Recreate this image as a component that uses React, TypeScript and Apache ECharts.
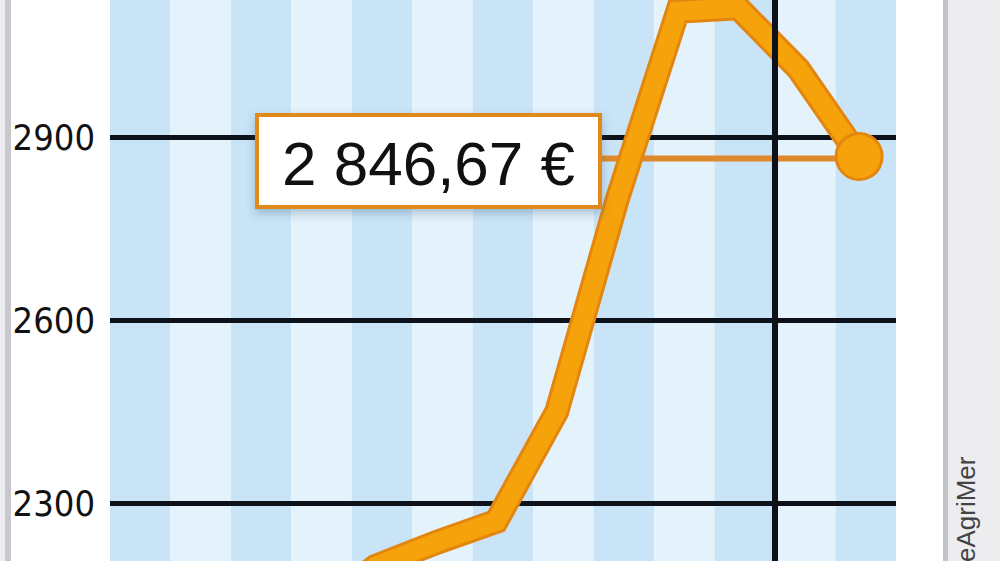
import React, { useEffect, useRef } from "react";
import * as echarts from "echarts";

// Monthly stripes (13 months) and price per tonne (€)
const months = ["févr.", "mars", "avr.", "mai", "juin", "juil.", "août", "sept.", "oct.", "nov.", "déc.", "janv.", "févr."];
const prices = [2050, 2060, 2080, 2120, 2196, 2235, 2270, 2450, 2798, 3106, 3112, 3011, 2868];
const yTickValues = [2300, 2600, 2900];
const yearBoundary = 11; // stripe index where the new year starts
const latestLabel = "2 846,67 €";
const sourceText = "eAgriMer";

const STRIPE_DARK = "#c9e4f6";
const STRIPE_LIGHT = "#e4f2fb";
const ORANGE = "#f6a20a";
const ORANGE_DARK = "#e3860f";
const INK = "#0d121a";

const VIEW_W = 1000;
const VIEW_H = 561;
const OFF_TOP = 46; // part of the chart above the visible window
const CHART_H = 732;

export default function App() {
  const ref = useRef<HTMLDivElement>(null);

  useEffect(() => {
    document.body.style.margin = "0";
    if (!ref.current) return;
    const chart = echarts.init(ref.current, undefined, { renderer: "svg" });
    const pointOffset = 0.39;
    const lastIdx = prices.length - 1;
    const seriesData = prices.map((v, i) => [i, v]);

    chart.setOption({
      animation: false,
      grid: { left: 110, right: 104, top: 0, bottom: 0, containLabel: false },
      xAxis: [
        { type: "value", show: false, min: -pointOffset, max: months.length - pointOffset },
        {
          type: "value",
          min: 0,
          max: months.length,
          interval: 1,
          position: "bottom",
          z: 0,
          axisLine: { show: false },
          axisTick: { show: false },
          axisLabel: { show: false },
          splitLine: { show: false },
          splitArea: { show: true, areaStyle: { color: [STRIPE_DARK, STRIPE_LIGHT] } },
        },
      ],
      yAxis: {
        type: "value",
        min: 2000,
        max: 3200,
        interval: 300,
        z: 1,
        axisLine: { show: false },
        axisTick: { show: false },
        axisLabel: {
          margin: 15,
          color: "#111",
          fontSize: 36,
          fontFamily: "'Liberation Sans Narrow', 'DejaVu Sans Condensed', 'Liberation Sans', sans-serif",
          formatter: (v: number) => (yTickValues.includes(v) ? String(v) : ""),
        },
        splitLine: { show: true, lineStyle: { color: INK, width: 5 } },
      },
      series: [
        {
          type: "line",
          xAxisIndex: 1,
          yAxisIndex: 0,
          data: [],
          z: 1,
          markLine: {
            silent: true,
            symbol: ["none", "none"],
            label: { show: false },
            lineStyle: { color: INK, width: 6, type: "solid" },
            data: [{ xAxis: yearBoundary }],
          },
        },
        {
          type: "line",
          data: seriesData,
          showSymbol: false,
          symbol: "none",
          z: 3,
          lineStyle: { color: ORANGE_DARK, width: 25, join: "miter" },
        },
        {
          type: "line",
          data: seriesData,
          showSymbol: false,
          symbol: "none",
          z: 4,
          lineStyle: { color: ORANGE, width: 19, join: "miter" },
        },
        {
          type: "scatter",
          data: [seriesData[lastIdx]],
          symbol: "circle",
          symbolSize: 46,
          z: 5,
          itemStyle: { color: ORANGE, borderColor: ORANGE_DARK, borderWidth: 3, opacity: 1 },
        },
      ],
    });

    const [px, py] = chart.convertToPixel({ seriesIndex: 3 }, seriesData[lastIdx]) as number[];
    const box = { x: 257, y: 115 + OFF_TOP, w: 343, h: 92 };

    chart.setOption({
      graphic: [
        { type: "rect", z: 0, silent: true, shape: { x: 0, y: 0, width: 5, height: CHART_H }, style: { fill: "#ededf1" } },
        { type: "rect", z: 0, silent: true, shape: { x: 5, y: 0, width: 6, height: CHART_H }, style: { fill: "#c8c8cc" } },
        { type: "rect", z: 0, silent: true, shape: { x: 943, y: 0, width: 5, height: CHART_H }, style: { fill: "#c4c4c8" } },
        { type: "rect", z: 0, silent: true, shape: { x: 948, y: 0, width: 52, height: CHART_H }, style: { fill: "#ededf0" } },
        {
          type: "line",
          z: 2,
          silent: true,
          shape: { x1: box.x + box.w, y1: py + 2, x2: px, y2: py + 2 },
          style: { stroke: "#de8a2c", lineWidth: 6 },
        },
        {
          type: "rect",
          z: 10,
          silent: true,
          shape: { x: box.x, y: box.y, width: box.w, height: box.h },
          style: {
            fill: "#ffffff",
            stroke: "#e08a1e",
            lineWidth: 4,
            shadowBlur: 10,
            shadowOffsetY: 4,
            shadowColor: "rgba(60,90,120,0.35)",
          },
        },
        {
          type: "text",
          z: 11,
          silent: true,
          x: box.x + box.w / 2,
          y: box.y + box.h / 2 + 2,
          style: {
            text: latestLabel,
            fill: "#111",
            fontSize: 62,
            fontFamily: "'Liberation Sans', Arial, sans-serif",
            align: "center",
            verticalAlign: "middle",
          },
        },
        {
          type: "text",
          z: 11,
          silent: true,
          x: 966,
          y: VIEW_H + OFF_TOP + 1,
          rotation: Math.PI / 2,
          style: {
            text: sourceText,
            fill: "#444",
            fontSize: 26,
            fontFamily: "'Liberation Sans', Arial, sans-serif",
            align: "left",
            verticalAlign: "middle",
          },
        },
      ],
    });

    return () => chart.dispose();
  }, []);

  return (
    <div style={{ position: "relative", width: VIEW_W, height: VIEW_H, overflow: "hidden", background: "#ffffff" }}>
      <div ref={ref} style={{ position: "absolute", left: 0, top: -OFF_TOP, width: VIEW_W, height: CHART_H }} />
    </div>
  );
}
